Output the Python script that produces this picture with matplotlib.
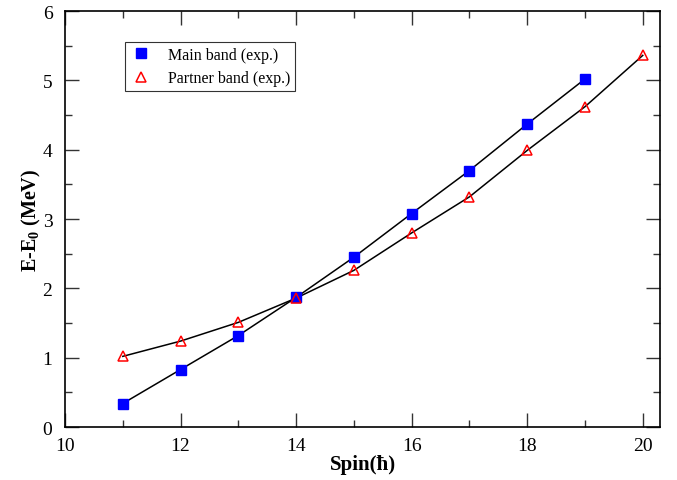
import matplotlib
matplotlib.use('Agg')
import matplotlib.pyplot as plt
from matplotlib.ticker import MultipleLocator

plt.rcParams['font.family'] = ['Liberation Serif', 'DejaVu Serif']
plt.rcParams['mathtext.fontset'] = 'custom'
plt.rcParams['mathtext.rm'] = 'Liberation Serif'
plt.rcParams['mathtext.bf'] = 'Liberation Serif:bold'

# Experimental levels
spin_main = [11, 12, 13, 14, 15, 16, 17, 18, 19]
energy_main = [0.34, 0.83, 1.32, 1.87, 2.45, 3.08, 3.70, 4.37, 5.02]

spin_partner = [11, 12, 13, 14, 15, 16, 17, 18, 19, 20]
energy_partner = [1.02, 1.24, 1.51, 1.86, 2.26, 2.80, 3.32, 3.99, 4.62, 5.36]

fig = plt.figure(figsize=(6.77, 4.81), dpi=100)
ax = fig.add_axes([0.096, 0.110, 0.879, 0.865])

# connecting lines
ax.plot(spin_main, energy_main, color='black', lw=1.1, zorder=1)
ax.plot(spin_partner, energy_partner, color='black', lw=1.1, zorder=1)

ax.plot(spin_main, energy_main, 's', color='#0000ff', ms=6.5, ls='none',
        label='Main band (exp.)', zorder=3)
ax.plot(spin_partner, energy_partner, '^', mfc='none', mec='#ff0000', mew=1.1,
        ms=7.5, ls='none', label='Partner band (exp.)', zorder=3)

ax.set_xlim(10, 20.3)
ax.set_ylim(0, 6)
ax.xaxis.set_major_locator(MultipleLocator(2))
ax.xaxis.set_minor_locator(MultipleLocator(1))
ax.yaxis.set_major_locator(MultipleLocator(1))
ax.yaxis.set_minor_locator(MultipleLocator(0.5))
ax.tick_params(which='both', direction='in', top=True, right=True,
               labelsize=14, width=1, color='#333333')
ax.tick_params(which='major', length=10)
ax.tick_params(which='minor', length=5)
ax.tick_params(axis='x', which='major', pad=7)
ax.tick_params(axis='y', which='major', pad=9)
for s in ax.spines.values():
    s.set_linewidth(1.2)

ax.set_xlabel('Spin(ħ)', fontsize=15, fontweight='bold', labelpad=0)
ax.set_ylabel(r'E-E$_\mathbf{0}$ (MeV)', fontsize=14.5, fontweight='bold', labelpad=0)

leg = ax.legend(loc='upper left', bbox_to_anchor=(0.100, 0.925), fontsize=11.5,
                frameon=True, fancybox=False, edgecolor='black',
                handletextpad=0.9, borderpad=0.3, labelspacing=0.45,
                handlelength=1.5, borderaxespad=0)
leg.get_frame().set_linewidth(0.8)

fig.savefig('out.png', dpi=100)
